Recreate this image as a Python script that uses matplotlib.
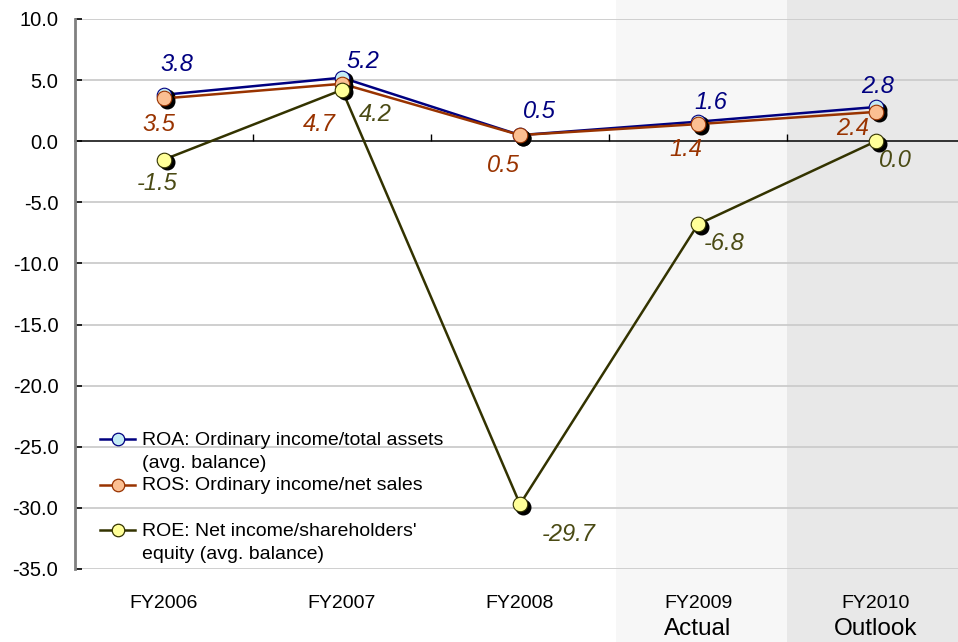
import matplotlib
matplotlib.use("Agg")
import matplotlib.pyplot as plt
import matplotlib.transforms as mtransforms
from matplotlib.patches import Rectangle
from matplotlib.lines import Line2D
from matplotlib.legend_handler import HandlerLine2D
from matplotlib.ticker import FormatStrFormatter

plt.rcParams['font.family'] = ['Liberation Sans', 'DejaVu Sans']

categories = ["FY2006", "FY2007", "FY2008", "FY2009", "FY2010"]
sublabels = ["", "", "", "Actual", "Outlook"]
roa = [3.8, 5.2, 0.5, 1.6, 2.8]
ros = [3.5, 4.7, 0.5, 1.4, 2.4]
roe = [-1.5, 4.2, -29.7, -6.8, 0.0]
yticks = [10, 5, 0, -5, -10, -15, -20, -25, -30, -35]

series_labels = ["ROA: Ordinary income/total assets\n(avg. balance)",
                 "ROS: Ordinary income/net sales\n ",
                 "ROE: Net income/shareholders'\nequity (avg. balance)"]

# label offsets (points)
roa_off = [(9, 22), (15, 12), (14, 17), (9, 14), (1, 15)]
ros_off = [(-4, -19), (-16, -29), (-12, -22), (-9, -18), (-17, -12)]
roe_off = [(-5, -17), (24, -18), (35, -22), (19, -14), (14, -14)]

fig = plt.figure(figsize=(9.58, 6.42), dpi=100)
fig.patch.set_facecolor('white')
ax = fig.add_axes([75 / 958, 73 / 642, 890 / 958, (569 - 19) / 642])
ax.set_facecolor('none')

x = list(range(len(categories)))
ax.set_xlim(-0.5, 4.5)
ax.set_ylim(-35, 10)

# shaded bands (full figure height)
trans_band = mtransforms.blended_transform_factory(ax.transData, fig.transFigure)
fig.patches.append(Rectangle((2.54, 0), 0.96, 1, transform=trans_band,
                             facecolor='#f7f7f7', edgecolor='none', zorder=-5))
fig.patches.append(Rectangle((3.5, 0), 1.2, 1, transform=trans_band,
                             facecolor='#e8e8e8', edgecolor='none', zorder=-5))

# grid
for yv in yticks:
    if yv != 0:
        ax.axhline(yv, color='#cccccc', lw=1.3, zorder=1)

# spines
for s in ['top', 'right']:
    ax.spines[s].set_visible(False)
ax.spines['left'].set_color('#808080')
ax.spines['left'].set_linewidth(2)
ax.spines['bottom'].set_position(('data', 0))
ax.spines['bottom'].set_color('black')
ax.spines['bottom'].set_linewidth(1.1)
ax.spines['bottom'].set_zorder(2)

ax.set_yticks(yticks)
ax.yaxis.set_major_formatter(FormatStrFormatter('%.1f'))
ax.tick_params(axis='y', direction='in', length=5, width=1.2, color='black',
               labelsize=14.5, pad=12)
ax.set_xticks([0.5, 1.5, 2.5, 3.5])
ax.set_xticklabels([])
ax.tick_params(axis='x', direction='in', length=5, width=1, color='black')

sec = ax.secondary_xaxis('bottom')
sec.set_xticks(x)
sec.set_xticklabels(categories)
sec.tick_params(axis='x', length=0, labelsize=14, pad=19)
sec.spines['bottom'].set_visible(False)

trans_lab = mtransforms.blended_transform_factory(ax.transData, ax.transAxes)
for xi, s in zip(x, sublabels):
    if s:
        ax.annotate(s, (xi, 0), xycoords=trans_lab, xytext=(0, -43),
                    textcoords='offset points', ha='center', va='center',
                    fontsize=17.5, annotation_clip=False)

styles = [
    (roa, '#000080', '#c4ecf6', '#000080', roa_off),
    (ros, '#993300', '#fbbf92', '#993300', ros_off),
    (roe, '#333300', '#ffff99', '#4a4a14', roe_off),
]

shadow = mtransforms.offset_copy(ax.transData, fig=fig, x=1.8, y=-1.8, units='points')
handles = []
for i, (vals, lc, fc, tc, offs) in enumerate(styles):
    z = 3 + i * 2
    ax.plot(x, vals, color=lc, lw=1.8, zorder=z, solid_joinstyle='miter')
    ax.plot(x, vals, ls='none', marker='o', ms=10.5, mfc='black', mec='black',
            transform=shadow, zorder=z + 0.5)
    ax.plot(x, vals, ls='none', marker='o', ms=10.5, mfc=fc, mec=lc, mew=0.8,
            zorder=z + 1)
    for xi, v, (dx, dy) in zip(x, vals, offs):
        ax.annotate(f"{v:.1f}", (xi, v), xytext=(dx, dy), textcoords='offset points',
                    ha='center', va='center', fontsize=17, style='italic', color=tc,
                    zorder=20)
    handles.append(Line2D([], [], color=lc, lw=1.8, marker='o', ms=9, mfc=fc,
                          mec=lc, mew=0.9))


class FirstLineHandler(HandlerLine2D):
    def create_artists(self, legend, orig_handle, xdescent, ydescent, width,
                       height, fontsize, trans):
        arts = super().create_artists(legend, orig_handle, xdescent, ydescent,
                                      width, height, fontsize, trans)
        for a in arts:
            a.set_ydata([yy + 0.64 * fontsize for yy in a.get_ydata()])
        return arts


leg = ax.legend(handles, series_labels, loc='lower left', bbox_to_anchor=(0.021, 0.0),
                frameon=False, fontsize=14, handlelength=1.85, handletextpad=0.35,
                labelspacing=0.3, borderaxespad=0.1, borderpad=0.2,
                handler_map={Line2D: FirstLineHandler(numpoints=1)})
for t in leg.get_texts():
    t.set_linespacing(1.46)
leg.set_zorder(25)

fig.savefig("out.png", dpi=100, facecolor='white')
